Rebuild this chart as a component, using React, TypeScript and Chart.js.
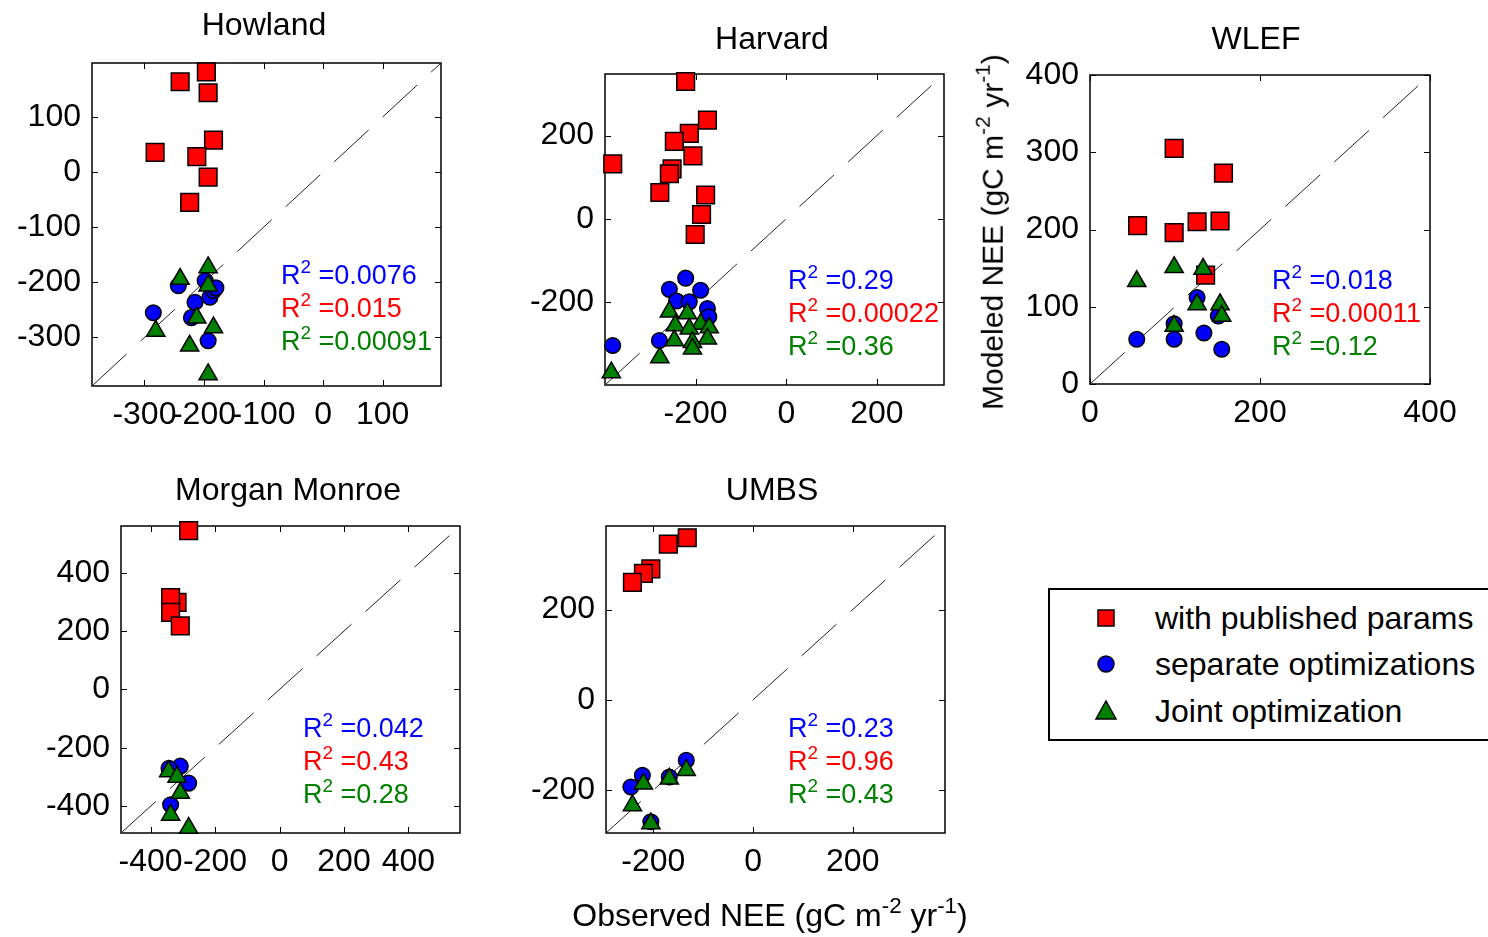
import React, { useEffect, useRef } from "react";
import { Chart, registerables } from "chart.js";

Chart.register(...registerables);

const FONT = "'Liberation Sans', Arial, Helvetica, sans-serif";
Chart.defaults.font.family = FONT;

// ---------- data (observed NEE, modeled NEE) ----------
// Howland
const howlandPublished = [[-240, 164], [-196, 182], [-193, 144], [-184, 58], [-282, 36], [-212, 28], [-193, -9], [-224, -55]];
const howlandSeparate = [[-285, -255], [-243, -206], [-215, -236], [-221, -264], [-190, -227], [-184, -215], [-193, -306], [-198, -197], [-180, -210]];
const howlandJoint = [[-240, -194], [-193, -173], [-193, -206], [-212, -264], [-281, -288], [-184, -282], [-224, -315], [-193, -367]];
const howlandTicks = [-300, -200, -100, 0, 100];
const howlandRange = [-388, 198];
const howlandR2 = ["0.0076", "0.015", "0.00091"];

// Harvard
const harvardPublished = [[-222, 330], [-174, 237], [-214, 205], [-247, 186], [-206, 151], [-383, 132], [-252, 120], [-258, 108], [-279, 63], [-178, 57], [-187, 10], [-201, -38]];
const harvardSeparate = [[-222, -143], [-258, -170], [-189, -172], [-242, -198], [-214, -200], [-174, -216], [-171, -236], [-280, -293], [-383, -305]];
const harvardJoint = [[-258, -224], [-218, -228], [-189, -253], [-245, -257], [-214, -265], [-170, -262], [-174, -289], [-247, -293], [-207, -297], [-207, -313], [-279, -334], [-386, -370]];
const harvardTicks = [-200, 0, 200];
const harvardRange = [-400, 348];
const harvardR2 = ["0.29", "0.00022", "0.36"];

// WLEF
const wlefPublished = [[99, 305], [157, 273], [56, 205], [99, 196], [126, 210], [153, 211], [136, 141]];
const wlefSeparate = [[55, 58], [99, 58], [99, 78], [126, 112], [134, 66], [155, 45], [151, 88]];
const wlefJoint = [[55, 133], [99, 151], [133, 149], [126, 103], [153, 103], [155, 88], [99, 75]];
const wlefXTicks = [0, 200, 400];
const wlefYTicks = [0, 100, 200, 300, 400];
const wlefRange = [0, 400];
const wlefR2 = ["0.018", "0.00011", "0.12"];

// Morgan Monroe
const morganPublished = [[-282, 544], [-318, 298], [-338, 315], [-338, 264], [-308, 218]];
const morganSeparate = [[-308, -263], [-343, -270], [-282, -321], [-338, -395]];
const morganJoint = [[-344, -281], [-318, -300], [-308, -355], [-338, -430], [-282, -475]];
const morganTicks = [-400, -200, 0, 200, 400];
const morganRange = [-492, 560];
const morganR2 = ["0.042", "0.43", "0.28"];

// UMBS
const umbsPublished = [[-132, 359], [-170, 345], [-205, 290], [-220, 280], [-242, 260]];
const umbsSeparate = [[-134, -134], [-168, -171], [-222, -167], [-245, -193], [-205, -270]];
const umbsJoint = [[-134, -156], [-168, -175], [-220, -186], [-242, -234], [-205, -274]];
const umbsTicks = [-200, 0, 200];
const umbsRange = [-295, 385];
const umbsR2 = ["0.23", "0.96", "0.43"];

const seriesLabels = ["with published params", "separate optimizations", "Joint optimization"];
const seriesColors = ["#ff0000", "#0000ff", "#008000"];
const r2Colors = ["#0000ff", "#ff0000", "#008000"];

// ---------- layout ----------
type Box = { left: number; top: number; right: number; bottom: number };

const AX_W = 110;
const AX_H = 60;
const PAD_T = 30;
const PAD_R = 45;

const boxPlugin = {
  id: "matlabBox",
  beforeDatasetsDraw(chart: any) {
    const { ctx, chartArea, scales } = chart;
    const { left, top, right, bottom } = chartArea;
    const L = 6;
    ctx.save();
    ctx.strokeStyle = "#000";
    ctx.lineWidth = 1.5;
    ctx.strokeRect(left, top, right - left, bottom - top);
    ctx.lineWidth = 1;
    ctx.beginPath();
    scales.x.ticks.forEach((t: any) => {
      const px = Math.round(scales.x.getPixelForValue(t.value)) + 0.5;
      ctx.moveTo(px, bottom);
      ctx.lineTo(px, bottom - L);
      ctx.moveTo(px, top);
      ctx.lineTo(px, top + L);
    });
    scales.y.ticks.forEach((t: any) => {
      const py = Math.round(scales.y.getPixelForValue(t.value)) + 0.5;
      ctx.moveTo(left, py);
      ctx.lineTo(left + L, py);
      ctx.moveTo(right, py);
      ctx.lineTo(right - L, py);
    });
    ctx.stroke();
    ctx.restore();
  },
};

function toXY(arr: number[][]) {
  return arr.map(([x, y]) => ({ x, y }));
}

type PanelProps = {
  box: Box;
  range: number[];
  xTicks: number[];
  yTicks: number[];
  published: number[][];
  separate: number[][];
  joint: number[][];
};

function Panel({ box, range, xTicks, yTicks, published, separate, joint }: PanelProps) {
  const ref = useRef<HTMLCanvasElement | null>(null);
  const w = box.right - box.left + AX_W + PAD_R;
  const h = box.bottom - box.top + PAD_T + AX_H;

  useEffect(() => {
    if (!ref.current) return;
    const [mn, mx] = range;
    const tickFont = { size: 32, family: FONT };
    const chart = new Chart(ref.current, {
      type: "scatter",
      data: {
        datasets: [
          {
            label: seriesLabels[0],
            data: toXY(published),
            pointStyle: "rect",
            pointRadius: 12.5,
            backgroundColor: seriesColors[0],
            borderColor: "#000",
            borderWidth: 1.5,
            order: 2,
            clip: false,
          },
          {
            label: seriesLabels[1],
            data: toXY(separate),
            pointStyle: "circle",
            pointRadius: 7.8,
            backgroundColor: seriesColors[1],
            borderColor: "#000",
            borderWidth: 1.5,
            order: 1,
            clip: false,
          },
          {
            label: seriesLabels[2],
            data: toXY(joint),
            pointStyle: "triangle",
            pointRadius: 10.5,
            backgroundColor: seriesColors[2],
            borderColor: "#000",
            borderWidth: 1.5,
            order: 0,
            clip: false,
          },
          {
            label: "1:1",
            data: [
              { x: mn, y: mn },
              { x: mx, y: mx },
            ],
            showLine: true,
            pointRadius: 0,
            borderColor: "#222",
            borderWidth: 1,
            borderDash: [47, 19],
            order: 3,
          },
        ],
      } as any,
      options: {
        animation: false,
        responsive: false,
        events: [],
        layout: { padding: { left: 0, top: PAD_T, right: PAD_R, bottom: 0 } },
        plugins: {
          legend: { display: false },
          tooltip: { enabled: false },
          title: { display: false },
        },
        scales: {
          x: {
            type: "linear",
            position: "bottom",
            min: mn,
            max: mx,
            afterBuildTicks: (s: any) => {
              s.ticks = xTicks.map((v) => ({ value: v }));
            },
            afterFit: (s: any) => {
              s.height = AX_H;
              s.paddingLeft = 0;
              s.paddingRight = 0;
              s.paddingTop = 0;
              s.paddingBottom = 0;
            },
            grid: { display: false, drawTicks: false },
            border: { display: false },
            ticks: {
              autoSkip: false,
              maxRotation: 0,
              minRotation: 0,
              padding: 10,
              color: "#000",
              font: tickFont,
            },
          },
          y: {
            type: "linear",
            position: "left",
            min: mn,
            max: mx,
            afterBuildTicks: (s: any) => {
              s.ticks = yTicks.map((v) => ({ value: v }));
            },
            afterFit: (s: any) => {
              s.width = AX_W;
              s.paddingLeft = 0;
              s.paddingRight = 0;
              s.paddingTop = 0;
              s.paddingBottom = 0;
            },
            grid: { display: false, drawTicks: false },
            border: { display: false },
            ticks: {
              autoSkip: false,
              padding: 11,
              color: "#000",
              font: tickFont,
            },
          },
        },
      } as any,
      plugins: [boxPlugin],
    });
    return () => chart.destroy();
  }, []);

  return (
    <canvas
      ref={ref}
      width={w}
      height={h}
      style={{
        position: "absolute",
        left: box.left - AX_W,
        top: box.top - PAD_T,
        width: w,
        height: h,
        display: "block",
      }}
    />
  );
}

function Sup({ children }: { children: React.ReactNode }) {
  return (
    <span style={{ fontSize: "0.7em", position: "relative", top: "-0.6em" }}>{children}</span>
  );
}

function R2Block({ left, top, values }: { left: number; top: number; values: string[] }) {
  return (
    <div style={{ position: "absolute", left, top, fontSize: 27, lineHeight: "31px", whiteSpace: "nowrap" }}>
      {values.map((v, i) => (
        <div key={i} style={{ color: r2Colors[i] }}>
          R<Sup>2</Sup> ={v}
        </div>
      ))}
    </div>
  );
}

function Title({ cx, cy, text }: { cx: number; cy: number; text: string }) {
  return (
    <div
      style={{
        position: "absolute",
        left: cx,
        top: cy,
        transform: "translate(-50%, -50%)",
        fontSize: 32,
        lineHeight: 1.15,
        whiteSpace: "nowrap",
      }}
    >
      {text}
    </div>
  );
}

function LegendMarker({ kind }: { kind: number }) {
  return (
    <svg width={26} height={26} viewBox="0 0 26 26" style={{ display: "block" }}>
      {kind === 0 && <rect x={5} y={5} width={16} height={16} fill={seriesColors[0]} stroke="#000" strokeWidth={1.5} />}
      {kind === 1 && <circle cx={13} cy={13} r={8} fill={seriesColors[1]} stroke="#000" strokeWidth={1.5} />}
      {kind === 2 && <polygon points="13,3 23,21 3,21" fill={seriesColors[2]} stroke="#000" strokeWidth={1.5} />}
    </svg>
  );
}

const boxes: Record<string, Box> = {
  howland: { left: 92, top: 63, right: 441, bottom: 386 },
  harvard: { left: 605, top: 74, right: 944, bottom: 385 },
  wlef: { left: 1090, top: 75, right: 1430, bottom: 384 },
  morgan: { left: 121, top: 526, right: 460, bottom: 833 },
  umbs: { left: 606, top: 526, right: 945, bottom: 833 },
};

export default function App() {
  const legendRows = [618, 664, 711];
  return (
    <div
      style={{
        position: "absolute",
        left: 0,
        top: 0,
        width: 1488,
        height: 937,
        overflow: "hidden",
        background: "#fff",
        fontFamily: FONT,
        color: "#000",
      }}
    >
      <Panel box={boxes.howland} range={howlandRange} xTicks={howlandTicks} yTicks={howlandTicks}
        published={howlandPublished} separate={howlandSeparate} joint={howlandJoint} />
      <Panel box={boxes.harvard} range={harvardRange} xTicks={harvardTicks} yTicks={harvardTicks}
        published={harvardPublished} separate={harvardSeparate} joint={harvardJoint} />
      <Panel box={boxes.wlef} range={wlefRange} xTicks={wlefXTicks} yTicks={wlefYTicks}
        published={wlefPublished} separate={wlefSeparate} joint={wlefJoint} />
      <Panel box={boxes.morgan} range={morganRange} xTicks={morganTicks} yTicks={morganTicks}
        published={morganPublished} separate={morganSeparate} joint={morganJoint} />
      <Panel box={boxes.umbs} range={umbsRange} xTicks={umbsTicks} yTicks={umbsTicks}
        published={umbsPublished} separate={umbsSeparate} joint={umbsJoint} />

      <Title cx={264} cy={24} text="Howland" />
      <Title cx={772} cy={38} text="Harvard" />
      <Title cx={1256} cy={38} text="WLEF" />
      <Title cx={288} cy={489} text="Morgan Monroe" />
      <Title cx={772} cy={489} text="UMBS" />

      <R2Block left={281} top={260} values={howlandR2} />
      <R2Block left={788} top={265} values={harvardR2} />
      <R2Block left={1272} top={265} values={wlefR2} />
      <R2Block left={303} top={713} values={morganR2} />
      <R2Block left={788} top={713} values={umbsR2} />

      <div
        style={{
          position: "absolute",
          left: 993,
          top: 232,
          transform: "translate(-50%, -50%) rotate(-90deg)",
          fontSize: 30,
          lineHeight: 1.15,
          whiteSpace: "nowrap",
        }}
      >
        Modeled NEE (gC m<Sup>-2</Sup> yr<Sup>-1</Sup>)
      </div>
      <div
        style={{
          position: "absolute",
          left: 770,
          top: 915,
          transform: "translate(-50%, -50%)",
          fontSize: 32,
          lineHeight: 1.15,
          whiteSpace: "nowrap",
        }}
      >
        Observed NEE (gC m<Sup>-2</Sup> yr<Sup>-1</Sup>)
      </div>

      <div
        style={{
          position: "absolute",
          left: 1048,
          top: 588,
          width: 470,
          height: 153,
          border: "2px solid #000",
          boxSizing: "border-box",
          background: "#fff",
        }}
      />
      {seriesLabels.map((label, i) => (
        <React.Fragment key={label}>
          <div style={{ position: "absolute", left: 1106 - 13, top: legendRows[i] - 13 }}>
            <LegendMarker kind={i} />
          </div>
          <div
            style={{
              position: "absolute",
              left: 1155,
              top: legendRows[i] - 19,
              fontSize: 32,
              lineHeight: "38px",
              whiteSpace: "nowrap",
            }}
          >
            {label}
          </div>
        </React.Fragment>
      ))}
    </div>
  );
}
